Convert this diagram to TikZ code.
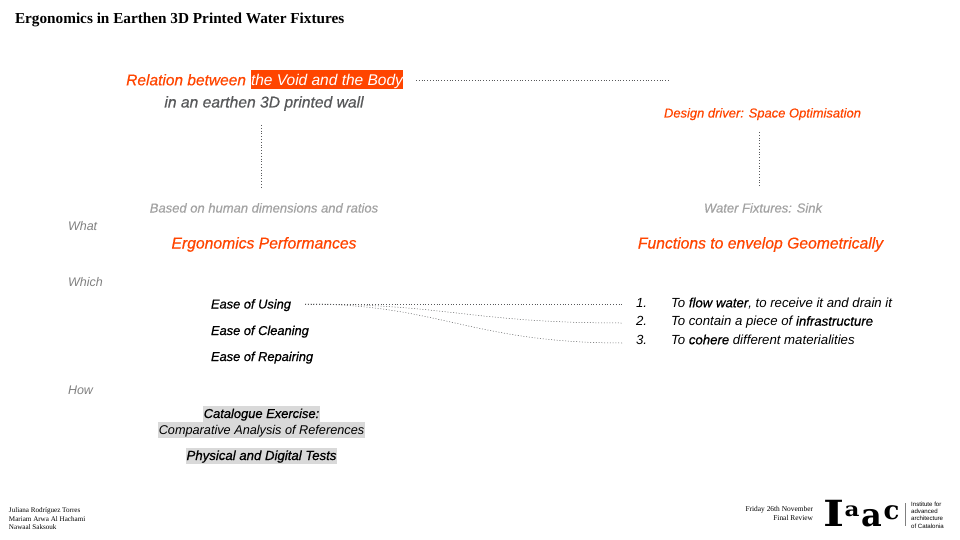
\documentclass[tikz,border=0pt]{standalone}
\usepackage{fontspec}
\setmainfont{Liberation Sans}[BoldFont=Liberation Sans,BoldFeatures={FakeBold=0.6},BoldItalicFont=Liberation Sans Italic,BoldItalicFeatures={FakeBold=0.6}]
\newfontfamily\serifface{Liberation Serif}
\newfontfamily\logoface{DejaVu Serif}
\definecolor{orangeiaac}{HTML}{FF4500}
\definecolor{greydark}{HTML}{58595B}
\definecolor{greylight}{HTML}{A3A3A3}
\definecolor{greyhow}{HTML}{808080}
\definecolor{greyband}{HTML}{D9D9D9}
\tikzset{
	txt/.style={inner sep=0pt,outer sep=0pt,anchor=base,font=\itshape},
	headline/.style={txt,font=\fontsize{15.5}{18}\selectfont\bfseries\itshape},
	sub/.style={txt,font=\fontsize{13}{15}\selectfont\bfseries\itshape,text=greylight},
	sidelabel/.style={txt,font=\fontsize{12.5}{15}\selectfont\itshape,text=greyhow,anchor=base west},
	big/.style={txt,font=\fontsize{15.7}{18}\selectfont\bfseries\itshape,text=orangeiaac},
	item/.style={txt,font=\fontsize{13.2}{15}\selectfont\itshape,anchor=base west},
	ease/.style={txt,font=\fontsize{12.85}{15}\selectfont\bfseries\itshape,anchor=base west},
	band/.style={txt,font=\fontsize{12.7}{15}\selectfont\itshape,fill=greyband,inner xsep=0.5pt,inner ysep=0pt,text height=12.5pt,text depth=3.5pt},
	small/.style={inner sep=0pt,outer sep=0pt,font=\serifface\fontsize{7.1}{8.2}\selectfont},
	logo/.style={inner sep=0pt,outer sep=0pt,anchor=base,font=\logoface\bfseries\fontsize{#1}{#1}\selectfont},
	dots/.style={line width=0.5pt,dash pattern=on 1pt off 1.8pt,draw=greydark}
}
\begin{document}
\begin{tikzpicture}[x=1pt,y=-1pt]
		\useasboundingbox (0,0) rectangle (960,540);
		\node[small,anchor=west,font=\serifface\bfseries\fontsize{15.25}{18}\selectfont] (title) at (15,20) {Ergonomics in Earthen 3D Printed Water Fixtures};
		% top left
		\node[headline,fill=orangeiaac,text=white,font=\fontsize{15.5}{18}\selectfont\itshape,inner xsep=0.5pt,inner ysep=0pt,text height=15.3pt,text depth=3.7pt] (void) at (327,85.3) {the Void and the Body};
		\node[headline,text=orangeiaac,anchor=base east] (relation) at (246,85.3) {Relation between};
		\node[headline,text=greydark,font=\fontsize{15.65}{18}\selectfont\bfseries\itshape] (wall) at (264,107.5) {in an earthen 3D printed wall};
		\node[txt,font=\fontsize{12.95}{15}\selectfont\bfseries\itshape,text=orangeiaac] (driver) at (762.5,117.5) {Design driver: Space Optimisation};
		\coordinate (voidstart) at (416,80);
		\coordinate (voidend) at (670,80);
		\coordinate (l1) at (261.5,125);
		\coordinate (l2) at (261.5,187);
		\coordinate (r1) at (759,132);
		\coordinate (r2) at (759,186);
		\draw[dots] (voidstart) -- (voidend);
		\draw[dots] (l1) -- (l2);
		\draw[dots] (r1) -- (r2);
		% columns
		\node[sub] (based) at (264,212.5) {Based on human dimensions and ratios};
		\node[sub] (sink) at (763,212.5) {Water Fixtures: Sink};
		\node[big] (ergo) at (264,248.5) {Ergonomics Performances};
		\node[big] (func) at (760.5,248.5) {Functions to envelop Geometrically};
		\node[sidelabel] (what) at (68,230.5) {What};
		\node[sidelabel] (which) at (68,286.5) {Which};
		\node[sidelabel] (how) at (68,394.5) {How};
		% which
		\node[ease] (using) at (211,308.5) {Ease of Using};
		\node[ease] (cleaning) at (211,335) {Ease of Cleaning};
		\node[ease] (repairing) at (211,361) {Ease of Repairing};
		\node[item] (n1) at (636,307.3) {1.};
		\node[item] (n2) at (636,325.7) {2.};
		\node[item] (n3) at (636,344.3) {3.};
		\node[item] (f1) at (671,307.3) {To \textbf{flow water}, to receive it and drain it};
		\node[item] (f2) at (671,325.7) {To contain a piece of \textbf{infrastructure}};
		\node[item] (f3) at (671,344.3) {To \textbf{cohere} different materialities};
		\coordinate (src) at (305,304);
		\coordinate (t1) at (623,304);
		\coordinate (t2) at (623,323);
		\coordinate (t3) at (623,343);
		\draw[dots] (src) -- (t1);
		\draw[dots] (src) .. controls (450,304) and (470,323) .. (t2);
		\draw[dots] (src) .. controls (440,304) and (470,343) .. (t3);
		% how
		\node[band,font=\fontsize{12.9}{15}\selectfont\bfseries\itshape] (catalogue) at (261.5,418) {Catalogue Exercise:};
		\node[band] (compar) at (261.5,434) {Comparative Analysis of References};
		\node[band,font=\fontsize{13.2}{15}\selectfont\bfseries\itshape] (tests) at (261.5,460) {Physical and Digital Tests};
		% footer
		\node[small,anchor=north west,align=left] (names) at (9,508) {Juliana Rodríguez Torres\\Mariam Arwa Al Hachami\\Nawaal Saksouk};
		\node[small,anchor=east,align=right,font=\serifface\fontsize{7.4}{8.4}\selectfont] (date) at (813,513.5) {Friday 26th November\\Final Review};
		\node[logo=36,xscale=1.25] (logoi) at (834,526) {I};
		\node[logo=20,xscale=1.15] (logoa) at (852,516) {a};
		\node[logo=32] (logob) at (872,526) {a};
		\node[logo=26] (logoc) at (891.5,519) {c};
		\node[inner sep=0pt,anchor=west,align=left,font=\fontsize{6.1}{7.3}\selectfont] (inst) at (911,515) {Institute for\\advanced\\architecture\\of Catalonia};
		\coordinate (sep1) at (905,503);
		\coordinate (sep2) at (905,526);
		\draw[line width=0.4pt,draw=greyhow] (sep1) -- (sep2);
		\end{tikzpicture}
\end{document}
